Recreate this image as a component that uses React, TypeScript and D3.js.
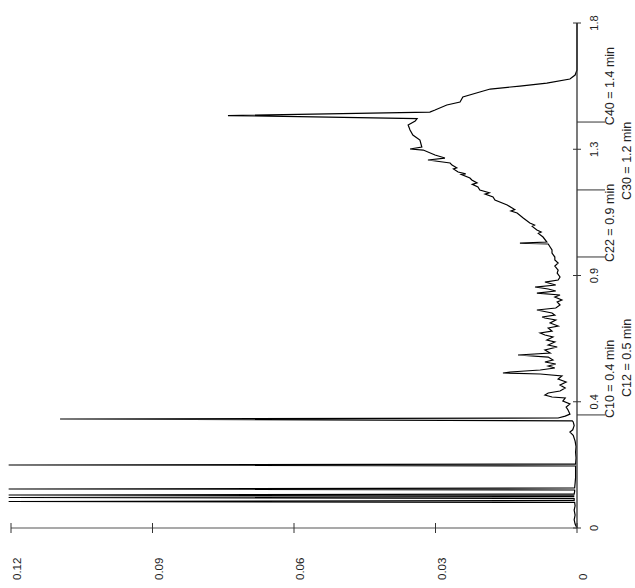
import React from 'react';
import * as d3 from 'd3';

const timeTicks = [0, 0.45, 0.9, 1.35, 1.8];
const timeTickLabels = ['0', '0.4', '0.9', '1.3', '1.8'];
const absTicks = [0, 0.03, 0.06, 0.09, 0.12];
const absTickLabels = ['0', '0.03', '0.06', '0.09', '0.12'];

const markerNames = ['C10 = 0.4 min', 'C12 = 0.5 min', 'C22 = 0.9 min', 'C30 = 1.2 min', 'C40 = 1.4 min'];
const markerTimes = [0.403, 0.474, 0.966, 1.205, 1.447];
const markerLabelTimes = [0.392, 0.467, 0.948, 1.169, 1.436];
const markerRows = [0, 1, 0, 1, 0];
const markerHasTick = [true, false, true, true, true];

const signalTime = [
  0, 0.014, 0.029, 0.046, 0.064, 0.079, 0.091, 0.0944, 0.098, 0.105, 0.1087, 0.112, 0.1145, 0.1176, 0.121,
  0.13, 0.1355, 0.139, 0.1425, 0.16, 0.18, 0.2, 0.221, 0.2245, 0.228, 0.25, 0.27, 0.29, 0.31, 0.33, 0.342,
  0.35, 0.365, 0.378, 0.382, 0.3885, 0.392, 0.399, 0.406, 0.4206, 0.4312, 0.4419, 0.4526, 0.4633, 0.4669,
  0.474, 0.4811, 0.4883, 0.499, 0.5097, 0.5203, 0.531, 0.5417, 0.5489, 0.5524, 0.556, 0.5631, 0.5702,
  0.5774, 0.5845, 0.5916, 0.5988, 0.6094, 0.6166, 0.6237, 0.6344, 0.6451, 0.6522, 0.6629, 0.67, 0.6807,
  0.6879, 0.695, 0.7021, 0.7128, 0.7199, 0.7306, 0.7413, 0.7484, 0.752, 0.7591, 0.7663, 0.777, 0.7841,
  0.7948, 0.8055, 0.8126, 0.8233, 0.8304, 0.8375, 0.8447, 0.8518, 0.8589, 0.8661, 0.8767, 0.8839, 0.8946,
  0.9088, 0.9195, 0.9338, 0.9445, 0.9552, 0.9658, 0.9801, 0.9908, 1.0015, 1.0122, 1.0157, 1.0193, 1.0371,
  1.05, 1.055, 1.0621, 1.075, 1.08, 1.087, 1.1048, 1.1227, 1.13, 1.135, 1.1512, 1.169, 1.1797, 1.19, 1.195,
  1.2046, 1.2153, 1.225, 1.23, 1.2403, 1.2474, 1.26, 1.262, 1.2688, 1.28, 1.284, 1.2937,
  1.3009, 1.3116, 1.3187, 1.3294, 1.3472, 1.3508, 1.3579, 1.3828, 1.4007, 1.4185, 1.4363, 1.4505, 1.4595,
  1.4702, 1.4826, 1.4898, 1.5076, 1.5183, 1.5361, 1.5539, 1.5646, 1.5753, 1.586, 1.6002, 1.6145, 1.6323,
  1.7, 1.8,
];
const signalAbs = [
  0, 0.0004, 0.0006, 0.0004, 0.0006, 0.0004, 0.0005, 0.1205, 0.0006, 0.0006, 0.1205, 0.0007, 0.0007, 0.1205, 0.0006,
  0.0005, 0.0005, 0.1205, 0.0005, 0.0004, 0.0003, 0.0003, 0.0003, 0.1205, 0.0003, 0.0002, 0.0003, 0.0002, 0.0004, 0.0008, 0.0015,
  0.0009, 0.0006, 0.0008, 0.001, 0.1096, 0.004, 0.0025, 0.0015, 0.0019, 0.0023, 0.0015, 0.003, 0.0025, 0.0053,
  0.0068, 0.0061, 0.0036, 0.0025, 0.0036, 0.0023, 0.004, 0.0032, 0.0078, 0.0157, 0.0142, 0.0078, 0.0047,
  0.0061, 0.0045, 0.0068, 0.0051, 0.0061, 0.0125, 0.0057, 0.0068, 0.0042, 0.0061, 0.0047, 0.0064, 0.0051,
  0.0068, 0.0078, 0.0053, 0.0061, 0.004, 0.0057, 0.0045, 0.0068, 0.0074, 0.0047, 0.0053, 0.0085, 0.0045,
  0.0036, 0.0042, 0.0032, 0.0047, 0.0036, 0.0085, 0.0045, 0.0061, 0.0089, 0.0045, 0.0068, 0.004, 0.0036,
  0.0042, 0.004, 0.0047, 0.004, 0.0047, 0.0047, 0.0053, 0.0053, 0.0057, 0.0061, 0.0121, 0.0064, 0.0072,
  0.0082, 0.0076, 0.0085, 0.0095, 0.009, 0.01, 0.0114, 0.0127, 0.014, 0.0132, 0.0148, 0.0174, 0.0178, 0.0195, 0.0186,
  0.0206, 0.021, 0.0222, 0.0212, 0.0223, 0.0227, 0.0245, 0.0236, 0.0252, 0.0262, 0.0255, 0.0265,
  0.0269, 0.0316, 0.028, 0.0301, 0.0326, 0.0354, 0.0329, 0.0333, 0.0348, 0.0354, 0.0358, 0.0343, 0.0339,
  0.074, 0.0312, 0.0301, 0.0276, 0.0248, 0.0242, 0.0206, 0.0184, 0.0121, 0.0064, 0.0015, 0.0004, 0,
  0, 0,
];

const W = 635;
const H = 588;
const originX = 577;
const originY = 528;
const timeLen = 505;
const absLen = 566;

export default function App() {
  const x = d3.scaleLinear().domain([0, 1.8]).range([0, timeLen]);
  const y = d3.scaleLinear().domain([0, 0.12]).range([0, -absLen]);
  const pts: [number, number][] = signalTime.map((t, i) => [t, signalAbs[i]]);
  const line = d3
    .line<[number, number]>()
    .x((d) => x(d[0]))
    .y((d) => y(d[1]));
  const axisColor = '#333';
  const textColor = '#222';
  return (
    <svg
      width={W}
      height={H}
      style={{ position: 'absolute', left: 0, top: 0, background: '#fff' }}
      fontFamily="'Liberation Sans', Arial, sans-serif"
    >
      <rect x={0} y={0} width={W} height={H} fill="#fff" />
      <g transform={`translate(${originX},${originY}) rotate(-90)`}>
        {/* signal */}
        <path d={line(pts) || ''} fill="none" stroke="#000" strokeWidth={1.2} strokeLinejoin="miter" />
        {/* time axis */}
        <line x1={0} y1={0} x2={timeLen} y2={0} stroke={axisColor} strokeWidth={1.3} />
        {timeTicks.map((t, i) => (
          <g key={'tt' + i}>
            <line x1={x(t)} x2={x(t)} y1={-4} y2={4} stroke={axisColor} strokeWidth={1} />
            <text x={x(t)} y={21} fontSize={11} textAnchor="middle" fill={textColor}>
              {timeTickLabels[i]}
            </text>
          </g>
        ))}
        {/* abs axis */}
        <line x1={0} y1={0} x2={0} y2={-absLen} stroke="#555" strokeWidth={1.2} />
        {absTicks.map((v, i) => (
          <g key={'at' + i}>
            <line x1={-5} x2={5} y1={y(v)} y2={y(v)} stroke={axisColor} strokeWidth={1} />
            <text x={-52} y={y(v) + 10} fontSize={11.5} textAnchor="start" fill={textColor}>
              {absTickLabels[i]}
            </text>
          </g>
        ))}
        {/* markers */}
        {markerNames.map((name, i) => (
          <g key={'m' + i}>
            {markerHasTick[i] && (
              <line x1={x(markerTimes[i])} x2={x(markerTimes[i])} y1={0} y2={28} stroke={axisColor} strokeWidth={1} />
            )}
            <text
              x={x(markerLabelTimes[i])}
              y={markerRows[i] === 0 ? 37 : 54}
              fontSize={12.5}
              textAnchor="start"
              fill={textColor}
            >
              {name}
            </text>
          </g>
        ))}
      </g>
    </svg>
  );
}
